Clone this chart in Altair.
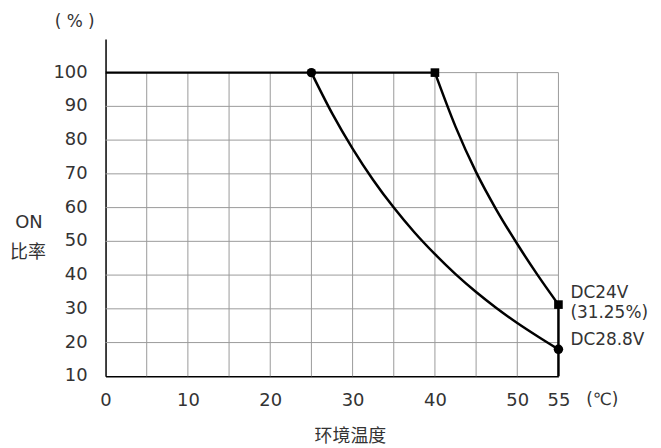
import altair as alt
import pandas as pd

# ---- data ----
x_ticks = [0, 10, 20, 30, 40, 50, 55]
y_ticks = [10, 20, 30, 40, 50, 60, 70, 80, 90, 100]
grid_x = [5, 10, 15, 20, 25, 30, 35, 40, 45, 50, 55]
grid_y = [20, 30, 40, 50, 60, 70, 80, 90, 100]

# DC28.8V derating curve (ambient temp vs ON ratio), read at 2.5 degC steps
c288_temp = [25, 27.5, 30, 32.5, 35, 37.5, 40, 42.5, 45, 47.5, 50, 52.5, 55]
c288_ratio = [100, 88, 77.5, 68.2, 60.0, 52.7, 46.2, 40.3, 35.0, 30.2, 25.8, 21.8, 18.0]
# DC24V derating curve
c24_temp = [40, 42.5, 45, 47.5, 50, 52.5, 55]
c24_ratio = [100, 84, 70.5, 59.2, 49.2, 39.9, 31.25]

# flat / vertical parts of the derating lines
seg_x = [0, 55]
seg_x2 = [40, 55]
seg_y = [100, 31.25]
seg_y2 = [100, 10]

circle_temp = [25, 55]
circle_ratio = [100, 18]
square_temp = [40, 55]
square_ratio = [100, 31.25]

FONT = "DejaVu Sans, Noto Sans CJK SC"
CJK = "Noto Sans CJK SC"
TXT = "#333333"
FS = 18

xs = alt.Scale(domain=[0, 55], nice=False, zero=False)
ys = alt.Scale(domain=[10, 110], nice=False, zero=False)

x_axis = alt.Axis(values=x_ticks, title=None, grid=False, ticks=False, labelPadding=15,
                  labelFlush=False, labelOverlap=False, labelFontSize=FS, labelFont=FONT,
                  labelColor=TXT)
y_axis = alt.Axis(values=y_ticks, title=None, grid=False, ticks=False, labels=False)

hgrid = alt.Chart(pd.DataFrame({"y": grid_y})).mark_rule(color="#9a9a9a", strokeWidth=1).encode(
    y=alt.Y("y:Q", scale=ys, axis=y_axis),
    x=alt.datum(0, scale=xs),
    x2=alt.datum(55),
)
vgrid = alt.Chart(pd.DataFrame({"x": grid_x})).mark_rule(color="#9a9a9a", strokeWidth=1).encode(
    x=alt.X("x:Q", scale=xs, axis=x_axis),
    y=alt.datum(10, scale=ys),
    y2=alt.datum(100),
)

# y tick labels drawn as text through the y scale
ylabels = alt.Chart(pd.DataFrame({"v": y_ticks})).mark_text(
    align="right", baseline="middle", fontSize=FS, font=FONT, color=TXT
).encode(x=alt.value(-18), y=alt.Y("v:Q", scale=ys, axis=y_axis), text="v:Q")

segs = pd.DataFrame({"x": seg_x, "x2": seg_x2, "y": seg_y, "y2": seg_y2})
seg_layer = alt.Chart(segs).mark_rule(color="black", strokeWidth=2.5).encode(
    x=alt.X("x:Q", scale=xs, axis=x_axis), x2="x2:Q",
    y=alt.Y("y:Q", scale=ys, axis=y_axis), y2="y2:Q"
)

curves = pd.concat([
    pd.DataFrame({"t": c288_temp, "r": c288_ratio, "s": "DC28.8V"}),
    pd.DataFrame({"t": c24_temp, "r": c24_ratio, "s": "DC24V"}),
])
curve_layer = alt.Chart(curves).mark_line(color="black", strokeWidth=2.5, interpolate="monotone").encode(
    x=alt.X("t:Q", scale=xs, axis=x_axis), y=alt.Y("r:Q", scale=ys, axis=y_axis),
    detail="s:N", order="t:Q"
)

circ = alt.Chart(pd.DataFrame({"t": circle_temp, "r": circle_ratio})).mark_point(
    shape="circle", filled=True, color="black", size=90, opacity=1
).encode(x=alt.X("t:Q", scale=xs, axis=x_axis), y=alt.Y("r:Q", scale=ys, axis=y_axis))
sq = alt.Chart(pd.DataFrame({"t": square_temp, "r": square_ratio})).mark_point(
    shape="square", filled=True, color="black", size=75, opacity=1
).encode(x=alt.X("t:Q", scale=xs, axis=x_axis), y=alt.Y("r:Q", scale=ys, axis=y_axis))

lab = pd.DataFrame({"t": [55, 55, 55], "r": [31.25, 31.25, 18],
                    "txt": ["DC24V", "(31.25%)", "DC28.8V"], "dy": [-12, 8, -9]})
def dc_label(i):
    return alt.Chart(lab.iloc[[i]]).mark_text(
        align="left", baseline="middle", dx=12, dy=int(lab["dy"][i]), fontSize=FS - 1, font=FONT, color=TXT
    ).encode(x=alt.X("t:Q", scale=xs, axis=x_axis), y=alt.Y("r:Q", scale=ys, axis=y_axis), text="txt:N")

def note(text, px, py, size=FS, font=FONT):
    return alt.Chart(pd.DataFrame({"txt": [text]})).mark_text(
        align="center", baseline="middle", fontSize=size, font=font, color=TXT
    ).encode(x=alt.value(px), y=alt.value(py), text="txt:N")

chart = alt.layer(
    hgrid, vgrid, ylabels, seg_layer, curve_layer, circ, sq,
    dc_label(0), dc_label(1), dc_label(2),
    note("( % )", -31, -17, 17),
    note("ON", -77, 185),
    note("比率", -78, 215, 18, CJK),
    note("(℃)", 499, 363, 17),
    note("环境温度", 246, 400, 18, CJK),
).properties(
    width=455, height=339,
    autosize=alt.AutoSizeParams(type="none"),
    padding={"left": 98, "top": 30, "right": 95, "bottom": 71},
).configure(background="white").configure_view(stroke=None).configure_axis(
    domainColor="black", domainWidth=1.5
)

chart.save("out.html", embed_options={"renderer": "svg", "actions": False})
